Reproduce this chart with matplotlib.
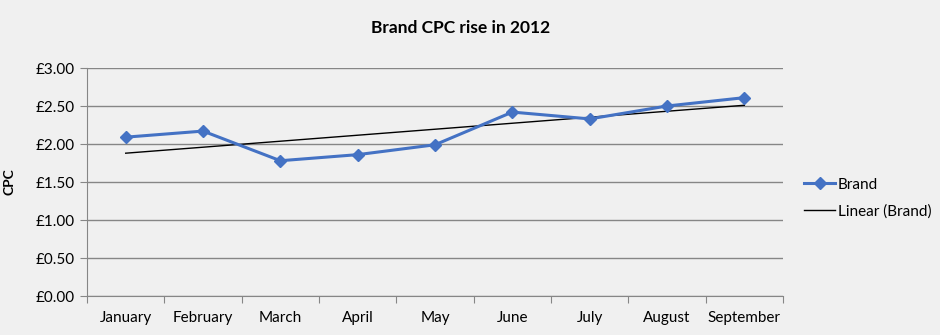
import matplotlib.pyplot as plt
import numpy as np

months = ["January", "February", "March", "April", "May", "June", "July", "August", "September"]
brand = [2.09, 2.17, 1.78, 1.86, 1.99, 2.42, 2.33, 2.50, 2.61]
y_ticks = [0.0, 0.5, 1.0, 1.5, 2.0, 2.5, 3.0]

plt.rcParams['font.family'] = ['Lato', 'DejaVu Sans']

bg = '#f0f0f0'
fig = plt.figure(figsize=(9.4, 3.35), dpi=100, facecolor=bg)
ax = fig.add_axes([0.0926, 0.1164, 0.7404, 0.6806], facecolor=bg)

x = np.arange(len(months))
ax.plot(x, brand, color='#4472c4', linewidth=2.2, marker='D', markersize=6, label='Brand', zorder=3)

# linear trend like excel
slope, intercept = np.polyfit(x, brand, 1)
ax.plot(x, slope * x + intercept, color='black', linewidth=1, label='Linear (Brand)', zorder=2)

ax.set_ylim(0, 3.0)
ax.set_xlim(-0.5, len(months) - 0.5)
ax.set_yticks(y_ticks)
ax.set_yticklabels(['£%.2f' % v for v in y_ticks], fontsize=11)
ax.yaxis.grid(True, color='#868686', linewidth=1)
ax.set_axisbelow(True)

ax.set_xticks(np.arange(-0.5, len(months), 1.0))
ax.set_xticklabels([])
ax.set_xticks(x, minor=True)
ax.set_xticklabels(months, minor=True, fontsize=11)
ax.tick_params(axis='x', which='major', length=5, color='#868686')
ax.tick_params(axis='x', which='minor', length=0, pad=11)
ax.tick_params(axis='y', length=5, color='#868686', pad=4)

for s in ['top', 'right']:
    ax.spines[s].set_visible(False)
ax.spines['left'].set_color('#868686')
ax.spines['bottom'].set_color('#868686')

ax.set_ylabel('CPC', fontsize=10, fontweight='bold', labelpad=14)
fig.suptitle('Brand CPC rise in 2012', x=0.49, y=0.94, fontsize=12.5, fontweight='bold')

ax.legend(loc='center left', bbox_to_anchor=(1.0, 0.43), frameon=False, fontsize=11,
          handlelength=2.0, handletextpad=0.2, labelspacing=0.8, borderaxespad=1.0)

fig.savefig('out.png', dpi=100, facecolor=bg)
